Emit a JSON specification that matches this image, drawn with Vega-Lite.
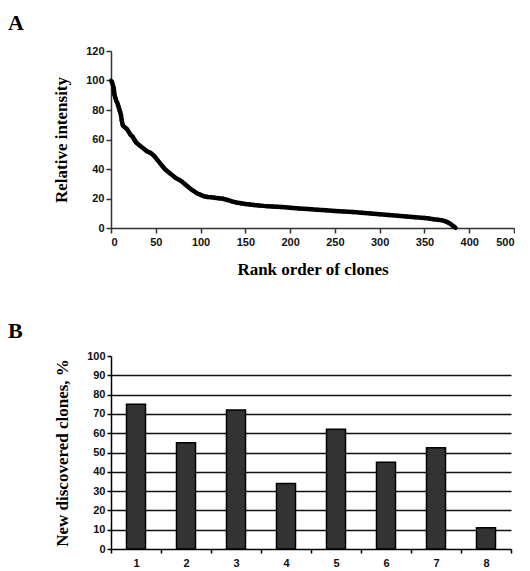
{
  "$schema": "https://vega.github.io/schema/vega-lite/v6.json",
  "background": "white",
  "padding": {"left": 8, "top": 12, "right": 0, "bottom": 0},
  "spacing": 43,
  "config": {
    "view": {"stroke": null},
    "axis": {
      "labelFont": "Liberation Sans",
      "labelFontSize": 11,
      "labelFontWeight": "bold",
      "labelColor": "#111",
      "labelOverlap": false,
      "titleFont": "Liberation Serif",
      "titleFontSize": 17,
      "titleFontWeight": "bold",
      "titleColor": "#000",
      "domainColor": "#333",
      "tickColor": "#333",
      "domainWidth": 1.5,
      "tickWidth": 1.5,
      "tickSize": 5,
      "grid": false
    },
    "title": {
      "font": "Liberation Serif",
      "fontSize": 22,
      "fontWeight": "bold",
      "color": "#000",
      "anchor": "start",
      "frame": "group",
      "offset": 10,
      "dx": -103
    }
  },
  "datasets": {
    "curve": [
      {"rank": 0, "intensity": 100}, {"rank": 1, "intensity": 99}, {"rank": 2, "intensity": 97},
      {"rank": 3, "intensity": 95}, {"rank": 4, "intensity": 90}, {"rank": 5, "intensity": 88},
      {"rank": 6, "intensity": 86}, {"rank": 7, "intensity": 85}, {"rank": 8, "intensity": 83},
      {"rank": 9, "intensity": 81}, {"rank": 10, "intensity": 79}, {"rank": 11, "intensity": 77},
      {"rank": 12, "intensity": 73}, {"rank": 13, "intensity": 70}, {"rank": 14, "intensity": 69},
      {"rank": 16, "intensity": 68}, {"rank": 18, "intensity": 67}, {"rank": 20, "intensity": 65},
      {"rank": 22, "intensity": 63}, {"rank": 24, "intensity": 62}, {"rank": 26, "intensity": 60},
      {"rank": 28, "intensity": 58}, {"rank": 30, "intensity": 57}, {"rank": 32, "intensity": 56},
      {"rank": 34, "intensity": 55}, {"rank": 36, "intensity": 54}, {"rank": 38, "intensity": 53},
      {"rank": 40, "intensity": 52}, {"rank": 42, "intensity": 51.5}, {"rank": 44, "intensity": 51},
      {"rank": 46, "intensity": 50}, {"rank": 48, "intensity": 49}, {"rank": 50, "intensity": 47.5},
      {"rank": 52, "intensity": 46}, {"rank": 54, "intensity": 44.5}, {"rank": 56, "intensity": 43},
      {"rank": 58, "intensity": 41.5}, {"rank": 60, "intensity": 40}, {"rank": 63, "intensity": 38.5},
      {"rank": 66, "intensity": 37}, {"rank": 69, "intensity": 35.5}, {"rank": 72, "intensity": 34},
      {"rank": 75, "intensity": 33}, {"rank": 78, "intensity": 32}, {"rank": 81, "intensity": 30.5},
      {"rank": 84, "intensity": 29}, {"rank": 87, "intensity": 27.5}, {"rank": 90, "intensity": 26},
      {"rank": 93, "intensity": 24.8}, {"rank": 96, "intensity": 23.5}, {"rank": 100, "intensity": 22.5},
      {"rank": 104, "intensity": 21.5}, {"rank": 108, "intensity": 21}, {"rank": 112, "intensity": 20.8},
      {"rank": 116, "intensity": 20.5}, {"rank": 120, "intensity": 20.2}, {"rank": 125, "intensity": 19.8},
      {"rank": 130, "intensity": 19}, {"rank": 135, "intensity": 18}, {"rank": 140, "intensity": 17.3},
      {"rank": 145, "intensity": 16.8}, {"rank": 150, "intensity": 16.3}, {"rank": 155, "intensity": 16},
      {"rank": 160, "intensity": 15.6}, {"rank": 165, "intensity": 15.3}, {"rank": 170, "intensity": 15},
      {"rank": 175, "intensity": 14.8}, {"rank": 180, "intensity": 14.6}, {"rank": 185, "intensity": 14.4},
      {"rank": 190, "intensity": 14.2}, {"rank": 195, "intensity": 14}, {"rank": 200, "intensity": 13.7},
      {"rank": 210, "intensity": 13.2}, {"rank": 220, "intensity": 12.8}, {"rank": 230, "intensity": 12.4},
      {"rank": 240, "intensity": 12}, {"rank": 250, "intensity": 11.6}, {"rank": 260, "intensity": 11.2},
      {"rank": 270, "intensity": 10.8}, {"rank": 280, "intensity": 10.3}, {"rank": 290, "intensity": 9.8},
      {"rank": 300, "intensity": 9.3}, {"rank": 310, "intensity": 8.8}, {"rank": 320, "intensity": 8.3},
      {"rank": 330, "intensity": 7.8}, {"rank": 340, "intensity": 7.3}, {"rank": 350, "intensity": 6.8},
      {"rank": 355, "intensity": 6.5}, {"rank": 360, "intensity": 6}, {"rank": 365, "intensity": 5.6},
      {"rank": 370, "intensity": 5.2}, {"rank": 373, "intensity": 4.6}, {"rank": 376, "intensity": 3.8},
      {"rank": 379, "intensity": 2.8}, {"rank": 381, "intensity": 1.8}, {"rank": 383, "intensity": 1},
      {"rank": 385, "intensity": 0}
    ],
    "bars": [
      {"round": "1", "pct": 75}, {"round": "2", "pct": 55}, {"round": "3", "pct": 72},
      {"round": "4", "pct": 34}, {"round": "5", "pct": 62}, {"round": "6", "pct": 45},
      {"round": "7", "pct": 52.5}, {"round": "8", "pct": 11}
    ]
  },
  "vconcat": [
    {
      "title": {"text": "A"},
      "width": 403,
      "height": 177,
      "data": {"name": "curve"},
      "encoding": {
        "x": {"field": "rank", "type": "quantitative",
              "scale": {"domain": [0, 450], "nice": false},
              "axis": {"values": [0, 50, 100, 150, 200, 250, 300, 350, 400, 450],
                       "labelExpr": "datum.value == 450 ? '500' : datum.label",
                       "title": "Rank order of clones", "titlePadding": 14, "labelPadding": 3}},
        "y": {"field": "intensity", "type": "quantitative",
              "scale": {"domain": [0, 120], "nice": false},
              "axis": {"values": [0, 20, 40, 60, 80, 100, 120],
                       "title": "Relative intensity", "titlePadding": 15, "labelPadding": 2}}
      },
      "layer": [
        {"mark": {"type": "line", "color": "#000", "strokeWidth": 4.5}},
        {"mark": {"type": "point", "shape": "diamond", "filled": true, "color": "#000", "size": 24, "opacity": 1}}
      ]
    },
    {
      "title": {"text": "B", "offset": 7},
      "width": 400,
      "height": 193,
      "data": {"name": "bars"},
      "mark": {"type": "bar", "fill": "#333", "stroke": "#000", "strokeWidth": 1.5, "width": {"band": 0.38}},
      "encoding": {
        "x": {"field": "round", "type": "ordinal",
              "scale": {"paddingInner": 0, "paddingOuter": 0},
              "axis": {"title": null, "labelAngle": 0, "tickBand": "extent", "labelPadding": 4,
                       "domainColor": "#000", "tickColor": "#000", "tickSize": 4}},
        "y": {"field": "pct", "type": "quantitative",
              "scale": {"domain": [0, 100], "nice": false},
              "axis": {"values": [0, 10, 20, 30, 40, 50, 60, 70, 80, 90, 100],
                       "title": "New discovered clones, %", "titlePadding": 15, "labelPadding": 2,
                       "domainColor": "#000", "tickColor": "#000", "tickSize": 4,
                       "grid": true, "gridColor": "#111", "gridWidth": 1.5,
                       "gridOpacity": {"condition": {"test": "datum.value == 0 || datum.value == 100", "value": 0}, "value": 1}}}
      }
    }
  ]
}
